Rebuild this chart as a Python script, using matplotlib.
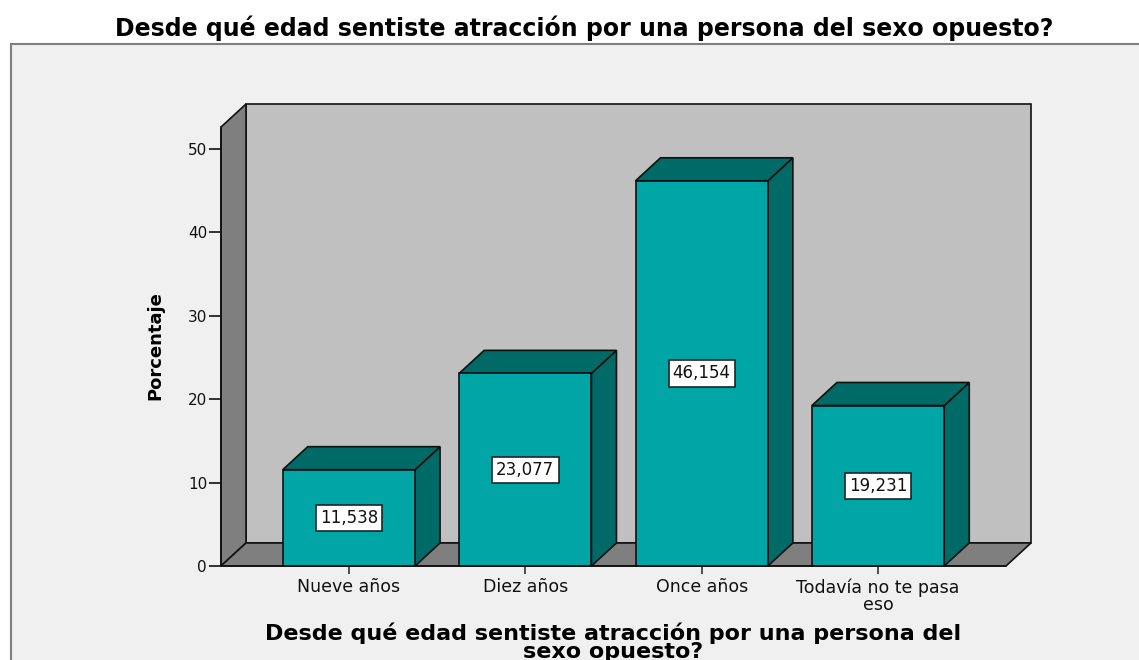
import matplotlib
matplotlib.use("Agg")
import matplotlib.pyplot as plt
from matplotlib.patches import Rectangle, Polygon

categories = ["Nueve años", "Diez años", "Once años", "Todavía no te pasa\neso"]
values = [11.538, 23.077, 46.154, 19.231]
value_labels = ["11,538", "23,077", "46,154", "19,231"]
yticks = [0, 10, 20, 30, 40, 50]
title = "Desde qué edad sentiste atracción por una persona del sexo opuesto?"
xlabel = "Desde qué edad sentiste atracción por una persona del\nsexo opuesto?"
ylabel = "Porcentaje"

W, H = 1139, 660
DPI = 100
fig = plt.figure(figsize=(W / DPI, H / DPI), dpi=DPI, facecolor="white")

# outer frame
frame = Rectangle((11 / W, -0.1), 1.2, (H - 44) / H + 0.1, transform=fig.transFigure,
                  facecolor="#F0F0F0", edgecolor="#7F7F7F", lw=1.5, zorder=-5)
fig.patches.append(frame)

# axes geometry (pixels)
ax_left, ax_right = 221, 1031
ax_bottom, ax_top = 566, 104
ax = fig.add_axes([ax_left / W, (H - ax_bottom) / H, (ax_right - ax_left) / W,
                   (ax_bottom - ax_top) / H])
ax.set_facecolor("none")
ax.set_zorder(2)

X0, X1 = -0.725, 3.725
DX = 25 / 176.3
YTOP = 52.6
DY = 2.76
BW = 0.75
ax.set_xlim(X0, X1 + DX)
ax.set_ylim(0, YTOP + DY)

wall_col = "#7F7F7F"
back_col = "#C0C0C0"
front_col = "#00A6A6"
dark_col = "#006A66"
ec = "#111111"

# back wall
ax.add_patch(Rectangle((X0 + DX, DY), X1 - X0, YTOP, facecolor=back_col, edgecolor=ec,
                       lw=1.2, zorder=1, clip_on=False))
# left wall
ax.add_patch(Polygon([(X0, 0), (X0 + DX, DY), (X0 + DX, YTOP + DY), (X0, YTOP)],
                     closed=True, facecolor=wall_col, edgecolor=ec, lw=1.2, zorder=2, clip_on=False))
# floor
ax.add_patch(Polygon([(X0, 0), (X1, 0), (X1 + DX, DY), (X0 + DX, DY)],
                     closed=True, facecolor=wall_col, edgecolor=ec, lw=1.2, zorder=2, clip_on=False))

for i, (v, lab) in enumerate(zip(values, value_labels)):
    l, r = i - BW / 2, i + BW / 2
    ax.add_patch(Polygon([(r, 0), (r + DX, DY), (r + DX, v + DY), (r, v)], closed=True,
                         facecolor=dark_col, edgecolor=ec, lw=1.2, zorder=3, clip_on=False))
    ax.add_patch(Polygon([(l, v), (r, v), (r + DX, v + DY), (l + DX, v + DY)], closed=True,
                         facecolor=dark_col, edgecolor=ec, lw=1.2, zorder=3, clip_on=False))
    ax.add_patch(Rectangle((l, 0), BW, v, facecolor=front_col, edgecolor=ec, lw=1.2, zorder=4,
                           clip_on=False))
    ax.text(i, v / 2, lab, ha="center", va="center", fontsize=12, color="#111111", zorder=6,
            bbox=dict(boxstyle="square,pad=0.25", facecolor="white", edgecolor="#222222", lw=1.2))

for s in ["top", "right"]:
    ax.spines[s].set_visible(False)
ax.spines["left"].set_bounds(0, YTOP)
ax.spines["bottom"].set_bounds(X0, X1)
for s in ["left", "bottom"]:
    ax.spines[s].set_linewidth(1.2)
    ax.spines[s].set_color(ec)
    ax.spines[s].set_zorder(5)

ax.set_yticks(yticks)
ax.set_yticklabels([str(t) for t in yticks])
ax.set_xticks(range(len(categories)))
ax.set_xticklabels(categories, linespacing=0.9)
ax.tick_params(axis="y", length=9, width=1.2, color=ec, labelsize=11, pad=1, labelcolor="#111111")
ax.tick_params(axis="x", length=6, width=1.2, color="#333333", labelsize=12.5, pad=3, labelcolor="#111111")

fig.text(584 / W, 1 - 28 / H, title, ha="center", va="center", fontsize=17, fontweight="bold")
fig.text(613 / W, 1 - 642 / H, xlabel, ha="center", va="center", fontsize=16,
         fontweight="bold", linespacing=0.9)
fig.text(155 / W, 1 - 346 / H, ylabel, ha="center", va="center", rotation=90, fontsize=13,
         fontweight="bold")

fig.savefig("out.png", dpi=DPI, facecolor="white")
